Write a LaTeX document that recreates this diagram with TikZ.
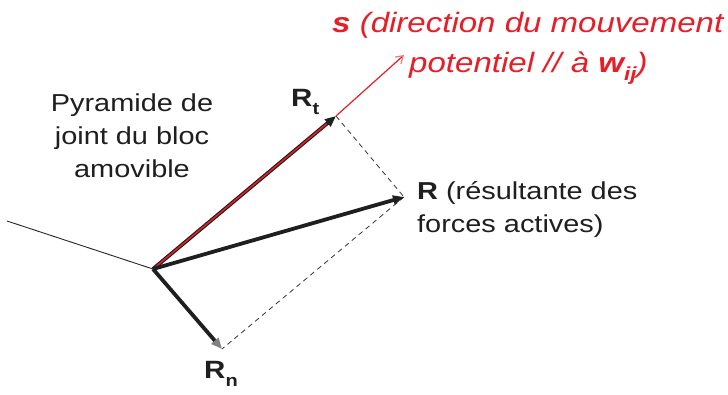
\documentclass[tikz,border=0pt]{standalone}
\usepackage{fontspec}
\setmainfont[FakeStretch=1.18]{Liberation Sans}
\usetikzlibrary{arrows.meta,calc}
\definecolor{sred}{RGB}{230,30,40}
\definecolor{sredl}{RGB}{240,120,120}
\tikzset{
  vec/.style={line width=3.8pt, black!88, -{Triangle[length=11pt,width=9pt]}},
  thinln/.style={line width=0.9pt, black!85},
  dashln/.style={dashed, line width=0.8pt, dash pattern=on 5pt off 4pt, black!80},
  redvec/.style={line width=1.2pt, sred, -{Straight Barb[length=7pt,width=9pt,color=sredl]}},
  txt/.style={inner sep=0pt, font=\fontsize{24.5}{33}\selectfont, text=black!88},
  lbl/.style={inner sep=0pt, font=\fontsize{25}{30}\selectfont\bfseries, text=black!88},
  redtxt/.style={inner sep=0pt, font=\fontsize{28}{40}\selectfont\itshape, text=sred, anchor=west}
}
\newcommand{\sbt}[1]{\raisebox{-0.35em}{\fontsize{17}{17}\selectfont\bfseries #1}}
\begin{document}
\begin{tikzpicture}[x=1pt,y=-1pt]
\useasboundingbox (0,0) rectangle (728,394);
\coordinate (O) at (153,269);
\coordinate (L) at (7,221);
\coordinate (Rt) at (336,116);
\coordinate (R) at (404,197);
\coordinate (Rn) at (222,349);
\coordinate (S) at (404,55);
\draw[thinln] (L) -- (O);
\draw[dashln] (Rt) -- (R);
\draw[dashln] (R) -- (Rn);
\draw[vec] (O) -- (Rt);
\draw[line width=1.5pt, sred] (O) -- ($(O)!0.95!(Rt)$);
\draw[redvec] (Rt) -- (S);
\draw[vec] (O) -- (R);
\draw[vec, -{Triangle[length=11pt,width=9pt,color=black!50]}] (O) -- (Rn);
\node[txt, align=center] (pyr) at (132,136) {Pyramide de\\joint du bloc\\amovible};
\node[lbl, anchor=base west] (lRt) at (291,106) {R\sbt{t}};
\node[lbl, anchor=base west] (lRn) at (204,378) {R\sbt{n}};
\node[txt, align=left, anchor=north west] (lR) at (417,181) {\textbf{R} (résultante des\\forces actives)};
\node[redtxt, anchor=base west] (s1) at (332,32) {\textbf{s} (direction du mouvement};
\node[redtxt, anchor=base west] (s2) at (409,72) {potentiel // à \textbf{w}\raisebox{-0.3em}{\fontsize{19}{19}\selectfont\bfseries\itshape ij})};
\end{tikzpicture}
\end{document}
